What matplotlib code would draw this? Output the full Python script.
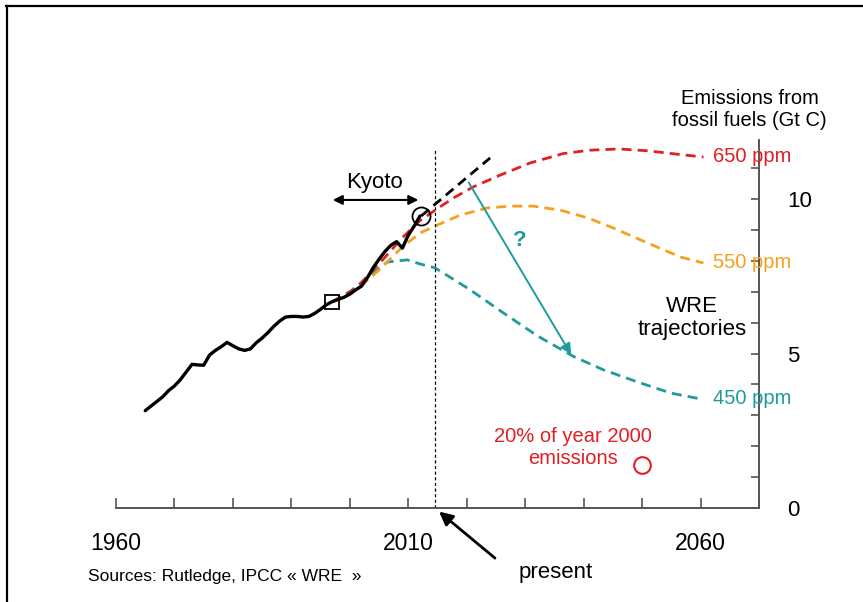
import matplotlib
matplotlib.use("Agg")
import matplotlib.pyplot as plt
from matplotlib.lines import Line2D

plt.rcParams['font.family'] = ['Liberation Sans', 'DejaVu Sans']

# historical fossil fuel emissions (Gt C)
hist_years = list(range(1965, 2013))
hist_vals = [3.15, 3.3, 3.45, 3.6, 3.8, 3.95, 4.15, 4.4, 4.65, 4.63, 4.62, 4.95, 5.1, 5.22, 5.36,
             5.25, 5.15, 5.1, 5.15, 5.35, 5.5, 5.68, 5.88, 6.05, 6.18, 6.2, 6.2, 6.18, 6.2, 6.3,
             6.43, 6.58, 6.68, 6.75, 6.82, 6.92, 7.06, 7.18, 7.45, 7.78, 8.05, 8.3, 8.5, 8.62,
             8.41, 8.83, 9.12, 9.45]

# trend extension
trend_years = [2012.2, 2024.0]
trend_vals = [9.45, 11.33]

# WRE trajectories
red_years = [1997, 2001, 2005, 2009, 2012, 2014.6, 2017.7, 2021.1, 2025.8, 2030.9, 2036.5,
             2041, 2046, 2051, 2056, 2060.5]
red_vals = [6.67, 7.1, 7.9, 8.75, 9.3, 9.64, 10.03, 10.39, 10.78, 11.17, 11.47,
            11.58, 11.62, 11.56, 11.45, 11.36]
orange_years = [1997, 2001, 2005, 2009, 2012, 2015, 2018.9, 2023.5, 2027.5, 2031.4, 2036,
                2040.7, 2045.1, 2050.9, 2056.6, 2060.5]
orange_vals = [6.67, 7.05, 7.7, 8.45, 8.9, 9.16, 9.48, 9.71, 9.77, 9.77, 9.64,
               9.39, 9.06, 8.58, 8.12, 7.93]
teal_years = [1997, 2000, 2003, 2006.4, 2009.8, 2012, 2014.6, 2020.6, 2026.3, 2032.1, 2038.3,
              2043.4, 2049.2, 2054.9, 2060]
teal_vals = [6.67, 7.0, 7.45, 7.96, 8.03, 7.9, 7.77, 7.06, 6.31, 5.57, 4.9,
             4.47, 4.08, 3.72, 3.53]

scenario_labels = ["650 ppm", "550 ppm", "450 ppm"]
year_ticks = [1960, 2010, 2060]
present_year = 2014.6
kyoto = (1997.0, 2012.2)
target_year, target_val = 2050, 0.2 * 6.95

RED = "#e31e24"
ORANGE = "#f4a11d"
TEAL = "#1f9b9b"

fig = plt.figure(figsize=(8.63, 6.02), dpi=100)
ax = fig.add_axes([116 / 863, 1 - 508 / 602, 643 / 863, 368 / 602])
ax.set_xlim(1960, 2070)
ax.set_ylim(0, 11.91)

for s in ["left", "top"]:
    ax.spines[s].set_visible(False)
for s in ["bottom", "right"]:
    ax.spines[s].set_color("#555555")
    ax.spines[s].set_linewidth(1.4)

ax.set_xticks(range(1960, 2071, 10))
ax.set_xticklabels([str(y) if y in year_ticks else "" for y in range(1960, 2071, 10)])
ax.tick_params(axis="x", direction="in", length=7, width=1.2, color="#555555",
               labelsize=16.5, pad=17)
ax.yaxis.tick_right()
ax.set_yticks(range(0, 12))
ax.set_yticklabels([str(v) if v % 5 == 0 else "" for v in range(0, 12)])
ax.tick_params(axis="y", direction="in", length=6, width=1.2, color="#555555",
               labelsize=16, pad=20)

dash = dict(linestyle=(0, (3.6, 2.2)), linewidth=2.0)
ax.plot(teal_years, teal_vals, color=TEAL, **dash)
ax.plot(orange_years, orange_vals, color=ORANGE, **dash)
ax.plot(red_years, red_vals, color=RED, **dash)
ax.plot(trend_years, trend_vals, color="black", **dash)
ax.plot(hist_years, hist_vals, color="black", linewidth=2.4, solid_capstyle="round")

ax.plot([kyoto[0]], [hist_vals[hist_years.index(1997)]], marker="s", ms=9.5,
        mfc="none", mec="black", mew=1.3)
ax.plot([kyoto[1]], [hist_vals[-1]], marker="o", ms=13, mfc="none", mec="black", mew=1.3)
ax.plot([target_year], [target_val], marker="o", ms=12, mfc="none", mec=RED, mew=1.5,
        clip_on=False)

# present line
ax.plot([present_year, present_year], [0, 11.65], color="black", linewidth=0.9,
        linestyle=(0, (2.5, 2)))
ax.annotate("", xy=(present_year + 0.3, -0.06), xytext=(2025.2, -1.68),
            arrowprops=dict(arrowstyle="-|>", color="black", lw=2, mutation_scale=20),
            annotation_clip=False)
ax.text(2035.2, -2.1, "present", fontsize=16, ha="center", va="center")

# Kyoto
ax.annotate("", xy=(kyoto[1], 9.97), xytext=(kyoto[0] - 0.4, 9.97),
            arrowprops=dict(arrowstyle="<|-|>", color="black", lw=1.5, mutation_scale=14))
ax.text(2004.3, 10.55, "Kyoto", fontsize=16, ha="center", va="center")

# question arrow
ax.annotate("", xy=(2038.1, 4.89), xytext=(2020.1, 10.61),
            arrowprops=dict(arrowstyle="-|>", color=TEAL, lw=1.4, mutation_scale=16))
ax.text(2029.0, 8.67, "?", color=TEAL, fontsize=16, fontweight="bold",
        ha="center", va="center")

for lab, val, col in zip(scenario_labels, [red_vals[-1], orange_vals[-1], teal_vals[-1]],
                         [RED, ORANGE, TEAL]):
    ax.text(2062.1, val, lab, color=col, fontsize=14.5, ha="left", va="center")

ax.text(2058.5, 6.15, "WRE\ntrajectories", fontsize=16, ha="center", va="center",
        linespacing=1.1)
ax.text(2068.4, 12.9, "Emissions from\nfossil fuels (Gt C)", fontsize=14.5,
        ha="center", va="center", linespacing=1.2)
ax.text(2038.1, 1.97, "20% of year 2000\nemissions", color=RED, fontsize=14.5,
        ha="center", va="center", linespacing=1.2)
ax.text(1955.2, -2.23, "Sources: Rutledge, IPCC « WRE  »", fontsize=12.5,
        ha="left", va="center")

# frame of the original slide
fig.add_artist(Line2D([6 / 863, 1], [1 - 6 / 602, 1 - 6 / 602], color="black", lw=1.6,
                      transform=fig.transFigure))
fig.add_artist(Line2D([7 / 863, 7 / 863], [0, 1 - 6 / 602], color="black", lw=1.6,
                      transform=fig.transFigure))

fig.savefig("out.png", dpi=100)
